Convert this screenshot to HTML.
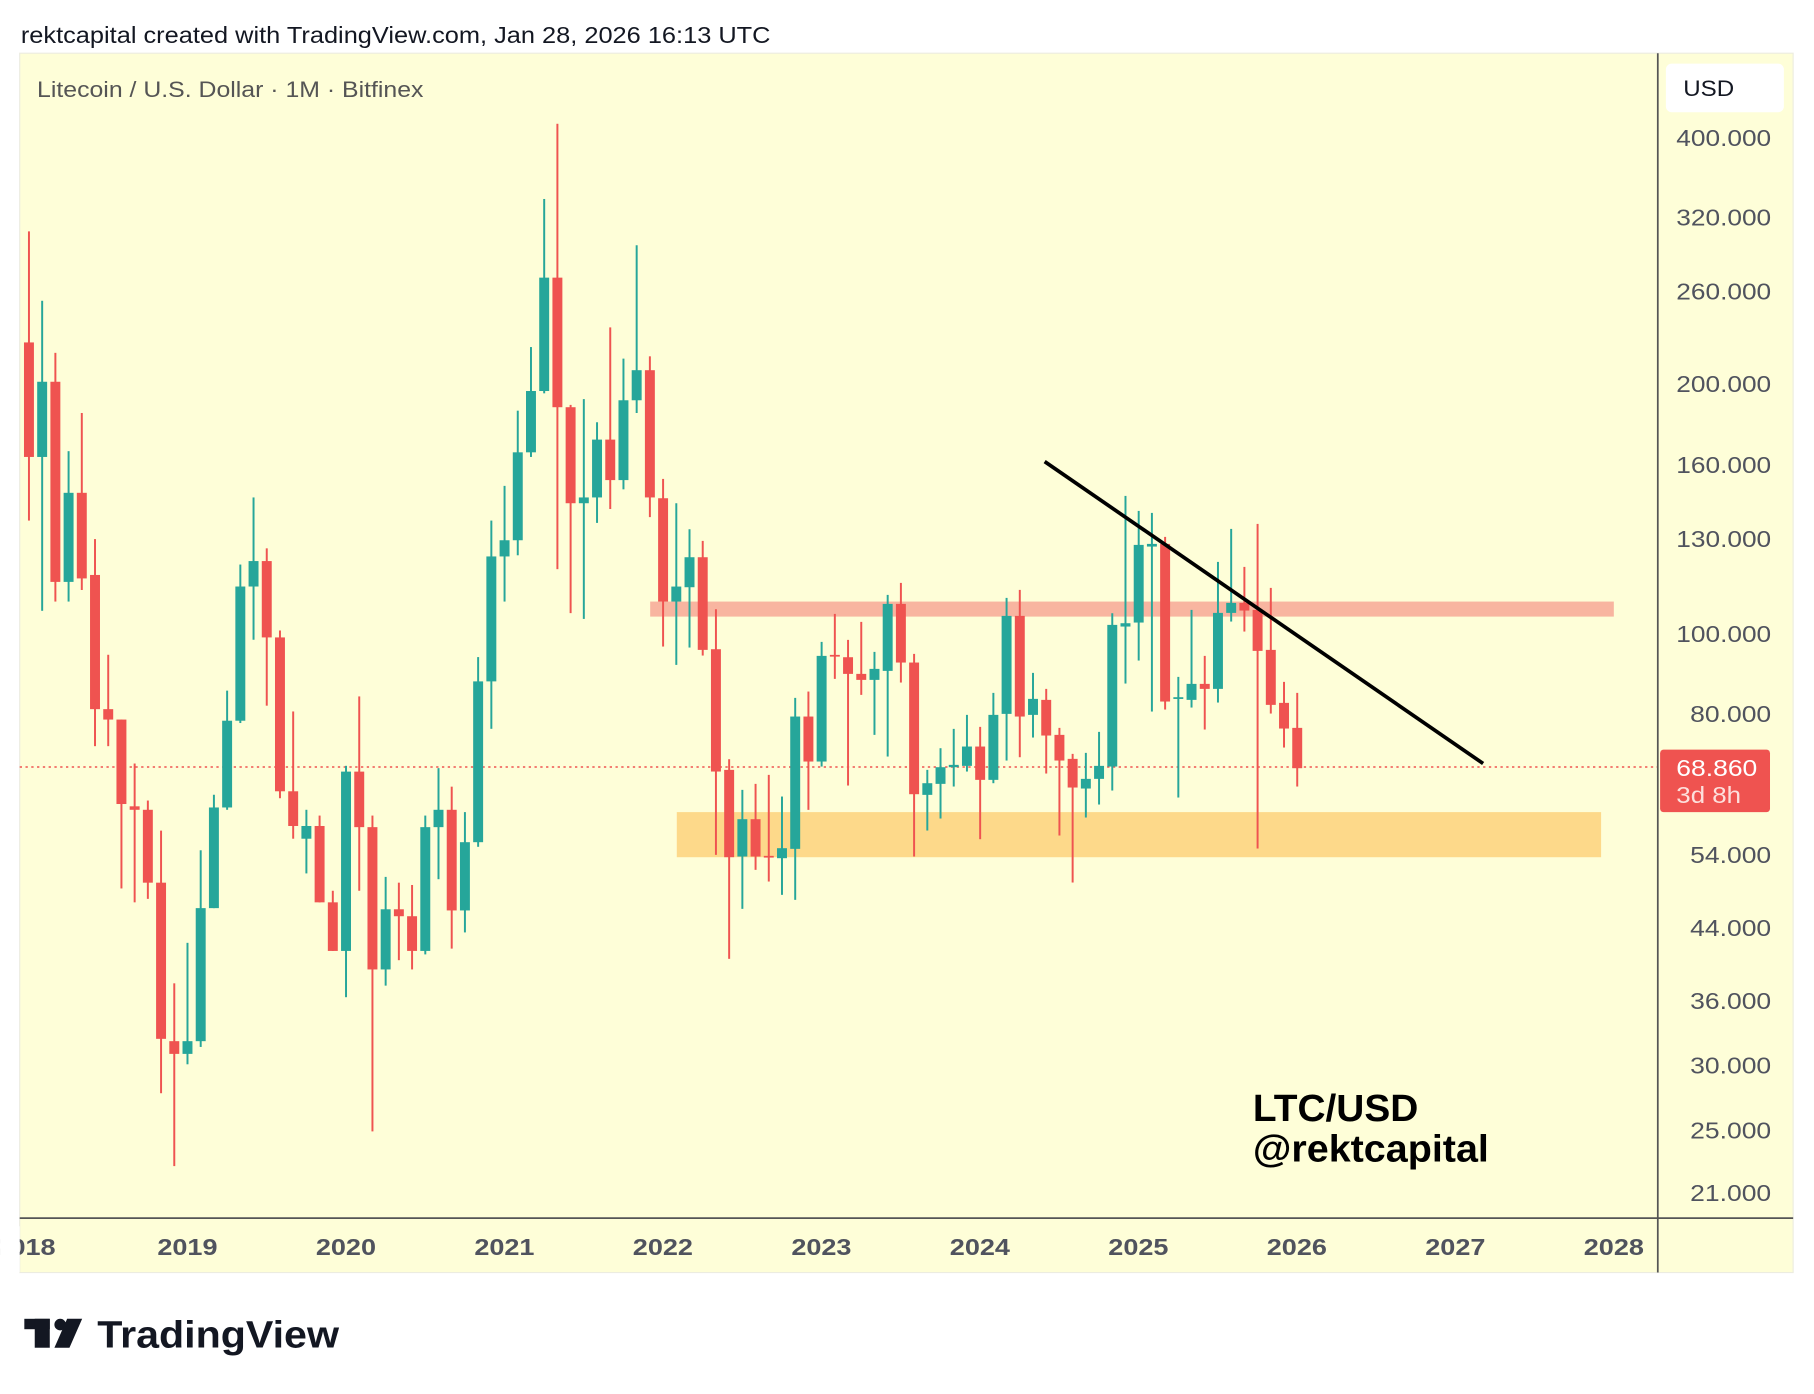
<!DOCTYPE html>
<html><head><meta charset="utf-8"><style>
html,body{margin:0;padding:0;background:#fff;}
svg{display:block;}
text{font-family:"Liberation Sans",sans-serif;}
</style></head><body>
<svg id="s" xmlns="http://www.w3.org/2000/svg" width="1814" height="1394" viewBox="0 0 1568 1205">
<rect x="0" y="0" width="1568" height="1205" fill="#fff"/>
<text x="18" y="37" font-size="20" fill="#131722" textLength="648" lengthAdjust="spacingAndGlyphs">rektcapital created with TradingView.com, Jan 28, 2026 16:13 UTC</text>
<rect x="17" y="46" width="1533" height="1054" fill="#fefed8" stroke="#ecece0" stroke-width="1"/>
<rect x="562" y="520" width="833" height="13" fill="#f8b5a0"/>
<rect x="585" y="702" width="799" height="39" fill="#fdd98a"/>
<line x1="17" y1="663" x2="1433" y2="663" stroke="#ef5350" stroke-width="1.3" stroke-dasharray="2,3"/>
<g id="c"></g>
<line x1="903" y1="399" x2="1282" y2="660" stroke="#000" stroke-width="3.2"/>
<line x1="1433" y1="46" x2="1433" y2="1100" stroke="#555" stroke-width="1.5"/>
<line x1="17" y1="1053" x2="1550" y2="1053" stroke="#555" stroke-width="1.5"/>
<text x="32" y="84" font-size="19.5" fill="#555" textLength="334" lengthAdjust="spacingAndGlyphs">Litecoin / U.S. Dollar · 1M · Bitfinex</text>
<rect x="1440" y="55" width="102" height="42" rx="5" fill="#fff"/>
<text x="1455" y="83" font-size="19" fill="#131722" textLength="44" lengthAdjust="spacingAndGlyphs">USD</text>
<g font-size="20" fill="#50535e" text-anchor="end">
<text x="1531" y="126" textLength="82" lengthAdjust="spacingAndGlyphs">400.000</text><text x="1531" y="195" textLength="82" lengthAdjust="spacingAndGlyphs">320.000</text>
<text x="1531" y="259" textLength="82" lengthAdjust="spacingAndGlyphs">260.000</text><text x="1531" y="339" textLength="82" lengthAdjust="spacingAndGlyphs">200.000</text>
<text x="1531" y="409" textLength="82" lengthAdjust="spacingAndGlyphs">160.000</text><text x="1531" y="473" textLength="82" lengthAdjust="spacingAndGlyphs">130.000</text>
<text x="1531" y="555" textLength="82" lengthAdjust="spacingAndGlyphs">100.000</text><text x="1531" y="624" textLength="70" lengthAdjust="spacingAndGlyphs">80.000</text>
<text x="1531" y="746" textLength="70" lengthAdjust="spacingAndGlyphs">54.000</text><text x="1531" y="809" textLength="70" lengthAdjust="spacingAndGlyphs">44.000</text>
<text x="1531" y="872" textLength="70" lengthAdjust="spacingAndGlyphs">36.000</text><text x="1531" y="928" textLength="70" lengthAdjust="spacingAndGlyphs">30.000</text>
<text x="1531" y="984" textLength="70" lengthAdjust="spacingAndGlyphs">25.000</text><text x="1531" y="1038" textLength="70" lengthAdjust="spacingAndGlyphs">21.000</text>
</g>
<rect x="1435" y="648" width="95" height="54" rx="3" fill="#ef5350"/>
<text x="1449" y="671" font-size="20" fill="#fff" textLength="70" lengthAdjust="spacingAndGlyphs">68.860</text>
<text x="1449" y="694" font-size="20" fill="#fde0dc" textLength="56" lengthAdjust="spacingAndGlyphs">3d 8h</text>
<g font-size="20" font-weight="bold" fill="#50535e" text-anchor="middle">
<text x="22" y="1085" textLength="52" lengthAdjust="spacingAndGlyphs">2018</text><text x="162" y="1085" textLength="52" lengthAdjust="spacingAndGlyphs">2019</text><text x="299" y="1085" textLength="52" lengthAdjust="spacingAndGlyphs">2020</text>
<text x="436" y="1085" textLength="52" lengthAdjust="spacingAndGlyphs">2021</text><text x="573" y="1085" textLength="52" lengthAdjust="spacingAndGlyphs">2022</text><text x="710" y="1085" textLength="52" lengthAdjust="spacingAndGlyphs">2023</text>
<text x="847" y="1085" textLength="52" lengthAdjust="spacingAndGlyphs">2024</text><text x="984" y="1085" textLength="52" lengthAdjust="spacingAndGlyphs">2025</text><text x="1121" y="1085" textLength="52" lengthAdjust="spacingAndGlyphs">2026</text>
<text x="1258" y="1085" textLength="52" lengthAdjust="spacingAndGlyphs">2027</text><text x="1395" y="1085" textLength="52" lengthAdjust="spacingAndGlyphs">2028</text>
</g>
<rect x="0" y="1060" width="17" height="40" fill="#fff"/>
<text x="1083" y="969" font-size="33" font-weight="bold" fill="#000" textLength="143" lengthAdjust="spacingAndGlyphs">LTC/USD</text>
<text x="1083" y="1004" font-size="33" font-weight="bold" fill="#000" textLength="204" lengthAdjust="spacingAndGlyphs">@rektcapital</text>
<g fill="#131722">
<rect x="21" y="1140" width="22" height="9"/><rect x="30" y="1140" width="13" height="25"/>
<circle cx="52" cy="1145" r="5"/><polygon points="58,1140 71,1140 60,1165 47,1165"/>
</g>
<text x="84" y="1165" font-size="33" font-weight="bold" fill="#131722" textLength="209" lengthAdjust="spacingAndGlyphs">TradingView</text>
</svg>
<script>
var early=[[296,200,450,395],[395,260,528,330],[330,305,520,503],[503,390,520,426],[426,357,510,500],[497,466,645,613],[613,566,645,622],[622,622,768,695],[697,660,780,700],[700,692,777,763],[763,718,945,898],[900,850,1008,911],
[911,815,920,900],[900,735,905,785],[785,687,785,698],[698,597,700,623],[623,488,625,507],[507,430,553,485],[485,474,610,551],[551,545,690,684],[684,615,725,714],[725,700,755,714],[714,705,780,780],[780,770,822,822],
[822,662,862,667],[667,602,770,715],[715,705,978,838],[838,758,852,786],[786,763,830,792],[792,765,838,822],[822,705,825,715],[715,664,760,700],[700,680,820,787],[787,702,806,728],[728,568,732,589],[589,450,630,481],
[481,420,520,467],[467,355,480,391],[391,300,395,338],[338,172,340,240],[240,107,492,352],[352,350,530,435],[435,345,535,430],[430,365,452,380],[380,283,440,415],[415,310,423,346],[346,212,357,320],[320,308,447,430]];
var late=[[85,27,530,395],[395,100,585,350],[352,178,533,262],[262,213,557,540],[538,418,1155,905],[900,868,1467,1162],[1160,960,1317,1048],[1048,942,1200,1160],[1158,915,1235,1162],[1165,980,1275,1135],[1137,684,1290,740],[740,665,1020,875],[875,516,890,558],[555,432,627,559],[562,510,947,612],[612,456,675,630],[630,546,795,597],[603,375,860,402],[402,339,638,578],[578,552,1160,973],
[975,900,1082,940],[942,835,1046,892],[892,777,950,885],[888,735,905,830],[830,771,1108,930],[930,669,940,735],[732,384,872,438],[438,360,862,740],[735,609,803,687],[690,657,911,797],[795,774,1097,872],[867,852,1238,953],[956,849,1043,927],[927,786,1004,888],[890,430,962,465],[470,78,641,460],[458,123,572,225],[230,129,725,222],[222,201,719,695],[687,621,983,682],[690,420,713,642],[642,558,779,657],[657,276,698,429],[429,177,455,399],[399,291,485,422],[420,162,1136,543],[540,354,731,705],[699,636,833,776],[774,669,950,895]];
function cv(z){return 406.2+z*0.2881;}
var all=early.slice();
late.forEach(function(d){all.push(d.map(cv));});
var h='';
all.forEach(function(d,i){
 var x=25+11.42*i,o=d[0],hi=d[1],lo=d[2],c=d[3];
 var up=c<o; var col=up?'#26a69a':'#ef5350';
 var t=Math.min(o,c),b=Math.max(o,c); if(b-t<1.5){b=t+1.5;}
 h+='<rect x="'+(x-0.85)+'" y="'+hi+'" width="1.7" height="'+(lo-hi)+'" fill="'+col+'"/>';
 h+='<rect x="'+(x-4.3)+'" y="'+t+'" width="8.6" height="'+(b-t)+'" fill="'+col+'"/>';
});
document.getElementById('c').innerHTML=h;
</script>
</body></html>
